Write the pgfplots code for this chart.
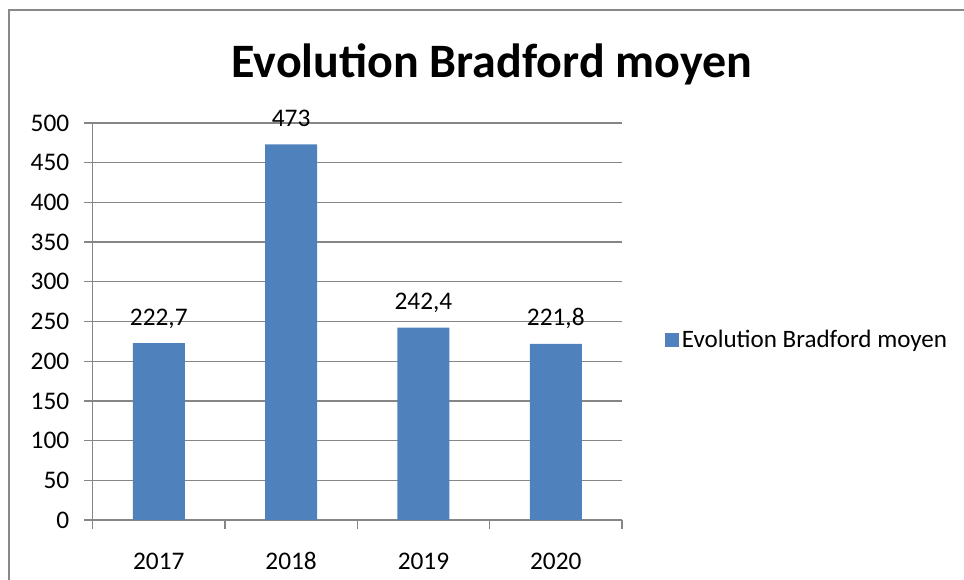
\documentclass[border=0pt]{standalone}
\usepackage{fontspec}
\setmainfont{Carlito}
\usepackage{pgfplots}
\pgfplotsset{compat=1.18}
\definecolor{barblue}{RGB}{79,129,189}
\definecolor{axgray}{RGB}{134,134,134}
\definecolor{frame}{RGB}{136,136,136}

\begin{document}
\begin{tikzpicture}
\begin{axis}[
  at={(0,0)}, anchor=south west,
  scale only axis,
  width=397pt, height=297.75pt,
  ybar, bar width=0.393,
  xmin=-0.5, xmax=3.5, ymin=0, ymax=500,
  ytick={0,50,...,500},
  xtick={-0.5,0.5,1.5,2.5,3.5},
  xticklabels={},
  extra x ticks={0,1,2,3},
  extra x tick labels={2017,2018,2019,2020},
  extra x tick style={major tick length=0pt, xticklabel style={anchor=base, yshift=-37pt}},
  axis x line*=bottom, axis y line*=left,
  axis line style={axgray, line width=1pt, -},
  tick align=outside, major tick length=6.5pt,
  tick style={axgray, line width=1pt},
  ymajorgrids, grid style={axgray, line width=1pt},
  font=\fontsize{19}{22}\selectfont,
  /pgf/number format/assume math mode=true,
  yticklabel style={xshift=-7.5pt},
  nodes near coords={\pgfmathprintnumber[fixed,precision=1,use comma,assume math mode=true]{\pgfplotspointmeta}},
  every node near coord/.append style={anchor=base, yshift=13.5pt, black, font=\fontsize{19}{22}\selectfont},
  legend style={at={(rel axis cs:1.0812,0.4534)}, anchor=west, draw=none, inner sep=0pt,
    font=\fontsize{18.8}{22}\selectfont},
  legend image code/.code={\fill[barblue] (-2.25pt,-5.25pt) rectangle (8.25pt,5.25pt);},
]
\addplot[fill=barblue, draw=none] coordinates {(0,222.7) (1,473) (2,242.4) (3,221.8)};
\addlegendentry{Evolution Bradford moyen}
\end{axis}
\begin{scope}[x=0.75pt,y=-0.75pt,shift={(-92.6,-520)}]
  \draw[frame, line width=1.5pt] (9,580) -- (9,10) -- (964,10);
  \node[anchor=base, font=\fontsize{36}{42}\selectfont\bfseries, inner sep=0pt] at (492,78) {Evolution Bradford moyen};
\end{scope}
\pgfresetboundingbox
\path[use as bounding box] (-69.45pt,-45pt) rectangle (653.55pt,390pt);
\end{tikzpicture}
\end{document}
